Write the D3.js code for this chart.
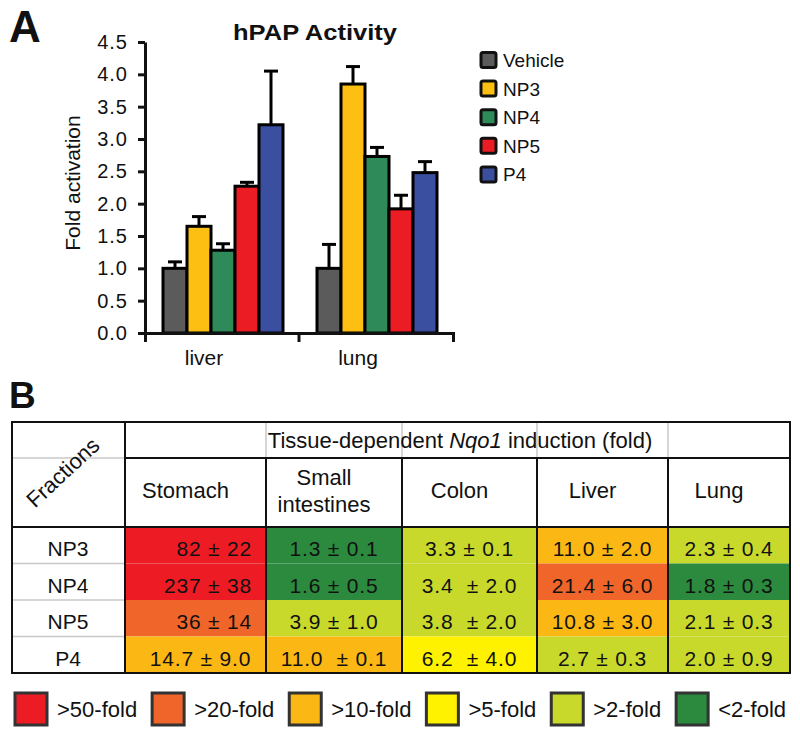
<!DOCTYPE html>
<html><head><meta charset="utf-8">
<script src="https://cdn.jsdelivr.net/npm/d3@7"></script>
<style>body{margin:0;background:#fff} svg text{font-family:"Liberation Sans",Arial,Helvetica,sans-serif;fill:#111}</style>
</head><body><svg id="c" width="800" height="736"></svg>
<script>
// ---------- Panel A data ----------
const groupsA = ["liver", "lung"];
const treatments = ["Vehicle", "NP3", "NP4", "NP5", "P4"];
const liverMeans = [1.0, 1.65, 1.28, 2.27, 3.22];
const liverErrTop = [1.10, 1.80, 1.38, 2.33, 4.05];
const lungMeans = [1.0, 3.85, 2.73, 1.92, 2.48];
const lungErrTop = [1.37, 4.12, 2.87, 2.13, 2.65];
const yTicks = [0, 0.5, 1.0, 1.5, 2.0, 2.5, 3.0, 3.5, 4.0, 4.5];
const barColors = ["#5b5b5b", "#fcbf12", "#2e8a59", "#ec1c24", "#3b4fa1"];

// ---------- Panel B data ----------
const fractions = ["NP3", "NP4", "NP5", "P4"];
const tissuesB = ["Stomach", "Small intestines", "Colon", "Liver", "Lung"];
const stomachVals = ["82 ± 22", "237 ± 38", "36 ± 14", "14.7 ± 9.0"];
const smallIntVals = ["1.3 ± 0.1", "1.6 ± 0.5", "3.9 ± 1.0", "11.0  ± 0.1"];
const colonVals = ["3.3 ± 0.1", "3.4  ± 2.0", "3.8  ± 2.0", "6.2  ± 4.0"];
const liverVals = ["11.0 ± 2.0", "21.4 ± 6.0", "10.8 ± 3.0", "2.7 ± 0.3"];
const lungVals = ["2.3 ± 0.4", "1.8 ± 0.3", "2.1 ± 0.3", "2.0 ± 0.9"];
const foldLabels = [">50-fold", ">20-fold", ">10-fold", ">5-fold", ">2-fold", "<2-fold"];
const foldColors = ["#ed1c24", "#f0652a", "#fbb714", "#fff200", "#c9d92c", "#2b8a3e"];
const foldThresholds = [2, 5, 10, 20, 50];

// ---------- layout ----------
const svg = d3.select("#c");
svg.append("rect").attr("width", 800).attr("height", 736).attr("fill", "#fff");

// Panel letters
svg.append("text").attr("x", 9).attr("y", 42).attr("font-size", 44).attr("font-weight", "bold").text("A");
svg.append("text").attr("x", 9).attr("y", 408).attr("font-size", 37).attr("font-weight", "bold").text("B");

// ===== Panel A =====
const y = d3.scaleLinear().domain([0, 4.5]).range([333, 42]);
const x0 = d3.scaleBand().domain(groupsA).range([145, 453]).paddingInner(0).paddingOuter(0);
const x1 = d3.scaleBand().domain(treatments).range([18, x0.bandwidth() - 16]).padding(0);
const seriesA = { liver: [liverMeans, liverErrTop], lung: [lungMeans, lungErrTop] };

svg.append("text").attr("x", 315).attr("y", 40).attr("text-anchor", "middle")
  .attr("font-size", 22).attr("font-weight", "bold")
  .attr("textLength", 164).attr("lengthAdjust", "spacingAndGlyphs").text("hPAP Activity");

// bars
groupsA.forEach(g => {
  const [means, tops] = seriesA[g];
  const gg = svg.append("g").attr("transform", `translate(${x0(g)},0)`);
  treatments.forEach((t, i) => {
    const cx = x1(t) + x1.bandwidth() / 2;
    gg.append("line").attr("x1", cx).attr("x2", cx).attr("y1", y(means[i])).attr("y2", y(tops[i]))
      .attr("stroke", "#000").attr("stroke-width", 3);
    gg.append("line").attr("x1", cx - 7).attr("x2", cx + 7).attr("y1", y(tops[i])).attr("y2", y(tops[i]))
      .attr("stroke", "#000").attr("stroke-width", 3);
  });
  treatments.forEach((t, i) => {
    gg.append("rect").attr("x", x1(t)).attr("y", y(means[i]))
      .attr("width", x1.bandwidth()).attr("height", y(0) - y(means[i]))
      .attr("fill", barColors[i]).attr("stroke", "#000").attr("stroke-width", 3);
  });
});

// y axis
const yAxis = svg.append("g").attr("transform", "translate(145,0)")
  .call(d3.axisLeft(y).tickValues(yTicks).tickFormat(d3.format(".1f")).tickSizeInner(7).tickSizeOuter(0).tickPadding(10));
yAxis.selectAll("path,line").attr("stroke", "#111").attr("stroke-width", 3);
yAxis.selectAll("text").attr("font-size", 20).attr("letter-spacing", "1px")
  .style("font-family", '"Liberation Sans",Arial,sans-serif').attr("fill", "#111");

// x axis
const xAxis = svg.append("g").attr("transform", "translate(0,333)")
  .call(d3.axisBottom(x0).tickSizeInner(0).tickSizeOuter(9).tickPadding(17));
xAxis.selectAll("path,line").attr("stroke", "#111").attr("stroke-width", 3);
xAxis.selectAll("text").attr("font-size", 21).attr("dx", -18)
  .style("font-family", '"Liberation Sans",Arial,sans-serif').attr("fill", "#111");
xAxis.append("line").attr("x1", x0("lung")).attr("x2", x0("lung")).attr("y1", 0).attr("y2", 9)
  .attr("stroke", "#111").attr("stroke-width", 3);

svg.append("text").attr("transform", "translate(80,183) rotate(-90)").attr("text-anchor", "middle")
  .attr("font-size", 21).text("Fold activation");

// legend A
const legA = svg.append("g");
treatments.forEach((t, i) => {
  const cy = 60 + i * 28.6;
  legA.append("rect").attr("x", 481).attr("y", cy - 7.5).attr("width", 15).attr("height", 15).attr("rx", 2)
    .attr("fill", barColors[i]).attr("stroke", "#111").attr("stroke-width", 3);
  legA.append("text").attr("x", 503).attr("y", cy + 7).attr("font-size", 19).text(t);
});

// ===== Panel B (table) =====
const tblLeft = 12, tblRight = 790, tblTop = 422, hdr1 = 458, hdr2 = 527, tblBottom = 673, fracRight = 125;
const colEdges = [125, 266, 402, 537, 668, 790];
const colX = d3.scaleOrdinal().domain(tissuesB).range(colEdges.slice(0, 5));
const colW = d3.scaleOrdinal().domain(tissuesB).range(colEdges.slice(1).map((e, i) => e - colEdges[i]));
const rowY = d3.scaleBand().domain(fractions).range([hdr2, tblBottom]);
const colorScale = d3.scaleThreshold().domain(foldThresholds).range(foldColors.slice().reverse());
const cellVals = [stomachVals, smallIntVals, colonVals, liverVals, lungVals];

const tb = svg.append("g");
tissuesB.forEach((tis, c) => {
  fractions.forEach((f, r) => {
    const txt = cellVals[c][r];
    tb.append("rect").attr("x", colX(tis)).attr("y", rowY(f)).attr("width", colW(tis)).attr("height", rowY.bandwidth())
      .attr("fill", colorScale(parseFloat(txt)));
  });
});
const L = (x1, y1, x2, y2, col, w) => tb.append("line").attr("x1", x1).attr("y1", y1).attr("x2", x2).attr("y2", y2)
  .attr("stroke", col).attr("stroke-width", w);
fractions.slice(1).forEach(f => L(tblLeft, rowY(f), fracRight, rowY(f), "#c8c8c8", 1.5));
L(tblLeft, hdr1, fracRight, hdr1, "#c8c8c8", 1.5);
colEdges.slice(1, 5).forEach(e => L(e, tblTop, e, hdr1, "#c8c8c8", 1.5));
L(fracRight, hdr1, tblRight, hdr1, "#111", 2);
L(tblLeft, hdr2, tblRight, hdr2, "#111", 2);
colEdges.slice(1, 5).forEach(e => L(e, hdr1, e, tblBottom, "#111", 2));
L(fracRight, tblTop, fracRight, tblBottom, "#111", 2);
tb.append("rect").attr("x", tblLeft).attr("y", tblTop).attr("width", tblRight - tblLeft).attr("height", tblBottom - tblTop)
  .attr("fill", "none").attr("stroke", "#111").attr("stroke-width", 2);

const h1 = tb.append("text").attr("x", 460).attr("y", 448).attr("text-anchor", "middle").attr("font-size", 22);
h1.append("tspan").text("Tissue-dependent ");
h1.append("tspan").attr("font-style", "italic").text("Nqo1");
h1.append("tspan").text(" induction (fold)");

tb.append("text").attr("transform", "translate(68,478) rotate(-43)").attr("text-anchor", "middle")
  .attr("font-size", 22).text("Fractions");

tissuesB.forEach(tis => {
  const cx = colX(tis) + colW(tis) / 2 - 10;
  const parts = tis.split(" ");
  if (parts.length === 1) {
    tb.append("text").attr("x", cx).attr("y", 498).attr("text-anchor", "middle").attr("font-size", 22).text(tis);
  } else {
    parts.forEach((p, i) => tb.append("text").attr("x", cx).attr("y", 485 + i * 27)
      .attr("text-anchor", "middle").attr("font-size", 22).text(p));
  }
});

fractions.forEach(f => {
  tb.append("text").attr("x", 68).attr("y", rowY(f) + rowY.bandwidth() / 2 + 11)
    .attr("text-anchor", "middle").attr("font-size", 21).text(f);
});

tissuesB.forEach((tis, c) => {
  fractions.forEach((f, r) => {
    const isStomach = c === 0;
    const t = tb.append("text")
      .attr("x", isStomach ? colX(tis) + colW(tis) - 14 : colX(tis) + colW(tis) / 2)
      .attr("y", rowY(f) + rowY.bandwidth() / 2 + 11)
      .attr("text-anchor", isStomach && r < 3 ? "end" : "middle")
      .attr("font-size", 21).attr("letter-spacing", "0.8px")
      .style("white-space", "pre").text(cellVals[c][r]);
    if (isStomach && r === 3) t.attr("x", colX(tis) + colW(tis) / 2 + 5);
  });
});

// bottom legend
const legB = svg.append("g");
let lx = 15;
foldLabels.forEach((lab, i) => {
  legB.append("rect").attr("x", lx).attr("y", 693).attr("width", 32).attr("height", 32)
    .attr("fill", foldColors[i]).attr("stroke", "#333").attr("stroke-width", 3);
  const t = legB.append("text").attr("x", lx + 42).attr("y", 717).attr("font-size", 22).text(lab);
  lx = lx + 42 + t.node().getComputedTextLength() + 15;
});
</script>
</body></html>
